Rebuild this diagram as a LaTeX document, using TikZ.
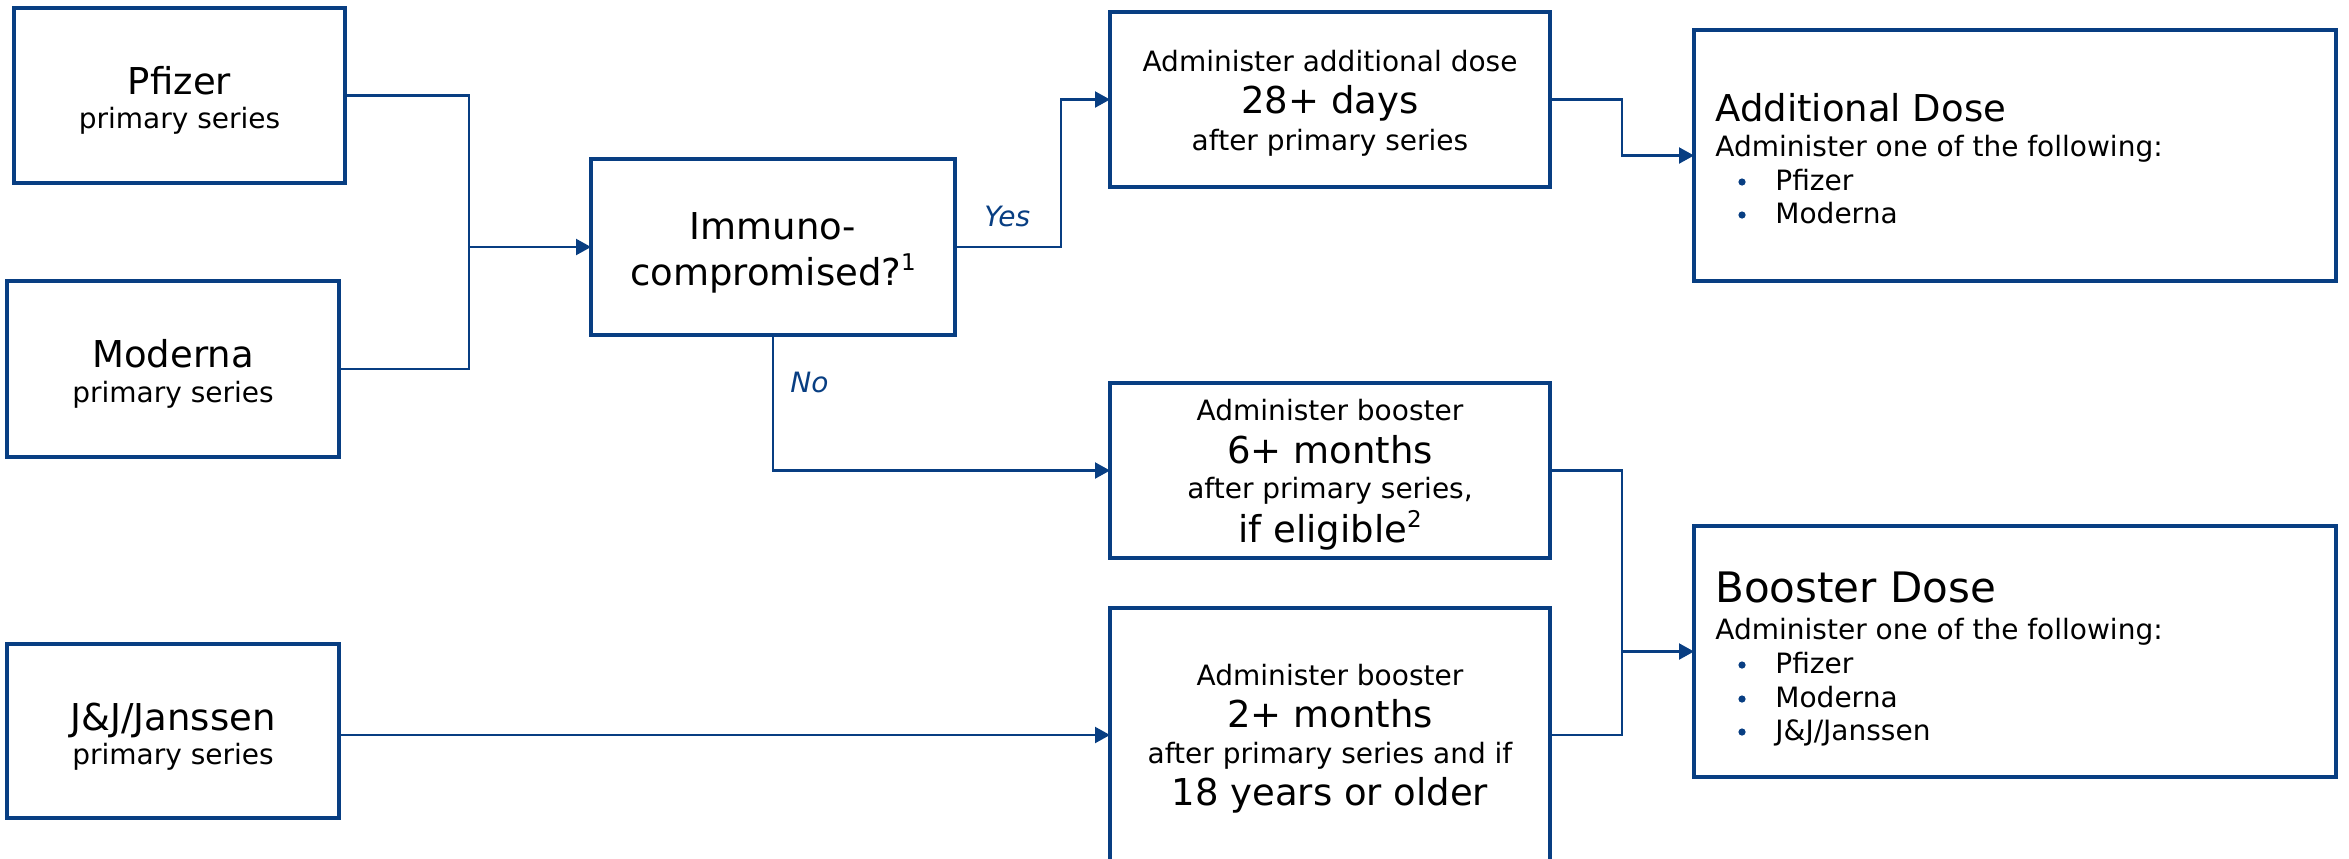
\documentclass[tikz,border=0pt]{standalone}
\usepackage{fontspec}
\setmainfont{DejaVu Sans}
\usetikzlibrary{arrows.meta}
\definecolor{navy}{RGB}{8,62,130}
\newcommand{\supnum}[1]{\raisebox{0.40em}{\fontsize{11.5}{11.5}\selectfont #1}}
\begin{document}
\begin{tikzpicture}[x=0.5pt,y=-0.5pt,
  box/.style={draw=navy,line width=1.75pt,inner sep=0pt,outer sep=0pt,fill=white},
  conn/.style={draw=navy,line width=1.1pt},
  arr/.style={conn,-{Triangle[length=7.5pt,width=8pt]}},
  big/.style={font=\fontsize{18.5}{22}\selectfont,anchor=base,inner sep=0pt},
  small/.style={font=\fontsize{14}{17}\selectfont,anchor=base,inner sep=0pt},
  head/.style={font=\fontsize{18.5}{22}\selectfont,anchor=base west,inner sep=0pt},
  headb/.style={font=\fontsize{21}{25}\selectfont,anchor=base west,inner sep=0pt},
  lefttext/.style={font=\fontsize{14}{17}\selectfont,anchor=base west,inner sep=0pt},
  lbl/.style={font=\fontsize{14}{17}\selectfont\itshape,text=navy,anchor=base west,inner sep=0pt},
  bul/.style={circle,fill=navy,inner sep=0pt,minimum size=3.6pt}]
\path[use as bounding box] (0,0) rectangle (2349,858);
\clip (0,0) rectangle (2349,858);
% boxes
\node[box,minimum width=165.5pt,minimum height=87.5pt] (pf) at (179.5,95.5) {};
\node[box,minimum width=166pt,minimum height=88pt] (mo) at (173,369) {};
\node[box,minimum width=166pt,minimum height=87pt] (jj) at (173,731) {};
\node[box,minimum width=182pt,minimum height=88pt] (im) at (773,247) {};
\node[box,minimum width=220pt,minimum height=87.5pt] (ad) at (1330,99.5) {};
\node[box,minimum width=220pt,minimum height=87.5pt] (b6) at (1330,470.5) {};
\node[box,minimum width=220pt,minimum height=127pt] (b2) at (1330,735) {};
\node[box,minimum width=321pt,minimum height=125.5pt] (AD) at (2015,155.5) {};
\node[box,minimum width=321pt,minimum height=125.5pt] (BD) at (2015,651.5) {};
% texts
\node[big] (pft1) at (179.5,94) {Pfizer};
\node[small] (pft2) at (179.5,128) {primary series};
\node[big] (mot1) at (173,367) {Moderna};
\node[small] (mot2) at (173,402) {primary series};
\node[big] (jjt1) at (173,730) {J\&J/Janssen};
\node[small] (jjt2) at (173,764) {primary series};
\node[big] (imt1) at (773,239) {Immuno-};
\node[big] (imt2) at (773,285) {compromised?\supnum{1}};
\node[small] (adt1) at (1330,71) {Administer additional dose};
\node[big] (adt2) at (1330,113) {28+ days};
\node[small] (adt3) at (1330,150) {after primary series};
\node[small] (b6t1) at (1330,420) {Administer booster};
\node[big] (b6t2) at (1330,463) {6+ months};
\node[small] (b6t3) at (1330,498) {after primary series,};
\node[big] (b6t4) at (1330,542) {if eligible\supnum{2}};
\node[small] (b2t1) at (1330,685) {Administer booster};
\node[big] (b2t2) at (1330,727) {2+ months};
\node[small] (b2t3) at (1330,763) {after primary series and if};
\node[big] (b2t4) at (1330,805) {18 years or older};
\node[head] (ADt1) at (1715,121) {Additional Dose};
\node[lefttext] (ADt2) at (1715,156) {Administer one of the following:};
\node[bul] (ADb1) at (1742,182) {};
\node[lefttext] (ADi1) at (1775,190) {Pfizer};
\node[bul] (ADb2) at (1742,215) {};
\node[lefttext] (ADi2) at (1775,223) {Moderna};
\node[headb] (BDt1) at (1715,602) {Booster Dose};
\node[lefttext] (BDt2) at (1715,639) {Administer one of the following:};
\node[bul] (BDb1) at (1742,665) {};
\node[lefttext] (BDi1) at (1775,673) {Pfizer};
\node[bul] (BDb2) at (1742,699) {};
\node[lefttext] (BDi2) at (1775,707) {Moderna};
\node[bul] (BDb3) at (1742,732) {};
\node[lefttext] (BDi3) at (1775,740) {J\&J/Janssen};
\node[lbl] (yes) at (984,226) {Yes};
\node[lbl] (no) at (790,392) {No};
% connectors
\coordinate (j1) at (469,247);
\draw[conn] (pf.east) -| (j1);
\draw[conn] (mo.east) -| (j1);
\draw[arr] (j1) -- (im.west);
\draw[arr] (im.east) -- ++(106,0) |- (ad.west);
\draw[arr] (im.south) |- (b6.west);
\draw[arr] (ad.east) -- ++(72,0) |- (AD.west);
\coordinate (j2) at (1622,651.5);
\draw[conn] (b6.east) -| (j2);
\draw[conn] (b2.east) -| (j2);
\draw[arr] (j2) -- (BD.west);
\draw[arr] (jj.east |- b2.west) -- (b2.west);
\end{tikzpicture}
\end{document}
